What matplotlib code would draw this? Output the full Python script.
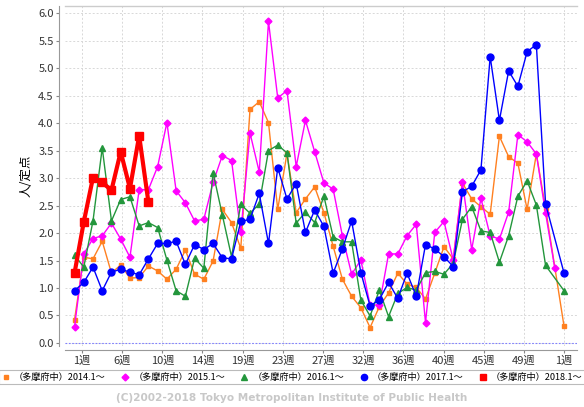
import numpy as np
import matplotlib
matplotlib.use('Agg')
from matplotlib import pyplot as plt

plt.rcParams['font.family'] = ['Noto Sans CJK JP', 'DejaVu Sans']

nan = np.nan

# weekly values, index 0..53 (last = week 1 of next year)
s2014 = [0.42, 1.56, 1.53, 1.85, 1.27, 1.42, 1.18, 1.19, 1.40, 1.31,
         1.16, 1.34, 1.69, 1.25, 1.16, 1.49, 2.43, 2.19, 1.72, 4.25,
         4.39, 4.01, 2.43, 3.45, 2.37, 2.62, 2.84, 2.37, 1.76, 1.16,
         0.85, 0.64, 0.28, 0.66, 0.91, 1.27, 1.07, 1.01, 0.80, 1.27,
         1.75, 1.53, 2.91, 2.62, 2.48, 2.34, 3.76, 3.39, 3.27, 2.43,
         3.44, 2.45, nan, 0.30]
s2015 = [0.29, 1.62, 1.90, 1.95, 2.18, 1.89, 1.56, 2.79, 2.79, 3.21,
         4.01, 2.77, 2.55, 2.22, 2.25, 2.92, 3.41, 3.32, 2.01, 3.82,
         3.11, 5.85, 4.46, 4.59, 3.21, 4.05, 3.48, 2.91, 2.80, 1.95,
         1.25, 1.51, 0.69, 0.69, 1.62, 1.62, 1.95, 2.16, 0.37, 2.01,
         2.21, 1.51, 2.92, 1.70, 2.63, 1.95, 1.89, 2.38, 3.79, 3.66,
         3.44, 2.36, 1.36, nan]
s2016 = [1.60, 1.38, 2.22, 3.55, 2.22, 2.61, 2.66, 2.13, 2.19, 2.10,
         1.51, 0.95, 0.85, 1.54, 1.36, 3.10, 2.33, 1.57, 2.52, 2.36,
         2.53, 3.50, 3.60, 3.46, 2.18, 2.38, 2.19, 2.67, 1.93, 1.84,
         1.84, 0.78, 0.49, 0.96, 0.48, 0.90, 1.01, 0.96, 1.28, 1.30,
         1.25, 1.45, 2.25, 2.48, 2.04, 2.01, 1.47, 1.95, 2.67, 2.95,
         2.51, 1.41, nan, 0.95]
s2017 = [0.95, 1.10, 1.38, 0.95, 1.29, 1.34, 1.29, 1.24, 1.53, 1.81,
         1.81, 1.85, 1.43, 1.79, 1.70, 1.81, 1.55, 1.53, 2.21, 2.25,
         2.72, 1.81, 3.19, 2.62, 2.90, 2.01, 2.42, 2.12, 1.27, 1.71,
         2.22, 1.28, 0.67, 0.79, 1.10, 0.81, 1.27, 0.85, 1.79, 1.71,
         1.57, 1.39, 2.75, 2.85, 3.15, 5.21, 4.05, 4.95, 4.67, 5.30,
         5.43, 2.53, nan, 1.27]
s2018 = [1.27, 2.20, 3.01, 2.92, 2.78, 3.48, 2.81, 3.77, 2.56]

labels = ['（多摩府中）2014.1～', '（多摩府中）2015.1～', '（多摩府中）2016.1～',
          '（多摩府中）2017.1～', '（多摩府中）2018.1～']
week_labels = ['1週', '6週', '10週', '14週', '19週', '23週', '27週',
               '32週', '36週', '40週', '45週', '49週', '1週']

fig = plt.figure(figsize=(5.84, 4.07), dpi=100)
ax = fig.add_axes([0.111, 0.150, 0.877, 0.835])

def draw(vals, color, marker, ms, lw, z):
    y = np.array(vals, dtype=float)
    x = np.arange(len(y))
    ok = ~np.isnan(y)
    ax.plot(x[ok], y[ok], color=color, lw=lw, marker=marker, ms=ms,
            mec=color, mfc=color, zorder=z)

draw(s2014, '#ff8020', 's', 3.5, 1.0, 3)
draw(s2015, '#ff00ff', 'D', 3.5, 1.0, 3)
draw(s2016, '#23963c', '^', 4.5, 1.0, 3)
draw(s2017, '#0000ff', 'o', 5.0, 1.0, 3)
draw(s2018, '#ff0000', 's', 5.5, 3.0, 4)

ax.set_xlim(-1.05, 54.4)
ax.set_ylim(-0.055, 6.13)
ax.set_yticks(np.arange(0, 6.01, 0.5))
ax.set_yticklabels(['%.1f' % v for v in np.arange(0, 6.01, 0.5)])
ax.set_xticks(np.linspace(0.8, 53, 13))
ax.set_xticklabels(week_labels)
ax.tick_params(labelsize=8, length=2, pad=2, color='#888888', labelcolor='#333333')
ax.grid(True, color='#d8d8d8', ls=(0, (2, 2)), lw=0.7)
ax.set_axisbelow(True)
ax.axhline(0, color='#8080ff', ls=(0, (1.5, 1.5)), lw=0.8, zorder=2)

for s in ['top', 'right']:
    ax.spines[s].set_visible(False)
ax.spines['left'].set_position(('outward', 4))
ax.spines['bottom'].set_position(('outward', 3))
ax.spines['left'].set_color('#999999')
ax.spines['bottom'].set_color('#999999')
ax.plot([0, 1], [1, 1], transform=ax.transAxes, color='#cccccc', lw=1, clip_on=False)

ax.set_ylabel('人/定点', fontsize=9, labelpad=4)

handles = [plt.Line2D([], [], ls='none', marker=m, color=c, ms=sz)
           for c, m, sz in [('#ff8020', 's', 3.5), ('#ff00ff', 'D', 3.5),
                            ('#23963c', '^', 4.5), ('#0000ff', 'o', 4.5),
                            ('#ff0000', 's', 4.5)]]
leg = fig.legend(handles, labels, loc='center', bbox_to_anchor=(0.5, 0.073),
                 ncol=5, fontsize=6.6, frameon=True, fancybox=False,
                 handlelength=1.0, handletextpad=0.4, columnspacing=1.6,
                 borderpad=0.25)
leg.get_frame().set_edgecolor('#aaaaaa')
leg.get_frame().set_linewidth(0.8)

fig.text(0.5, 0.022, '(C)2002-2018 Tokyo Metropolitan Institute of Public Health',
         ha='center', va='center', fontsize=7.6, color='#c8c8c8',
         fontweight='bold', family='DejaVu Sans')

fig.savefig('out.png', dpi=100)
